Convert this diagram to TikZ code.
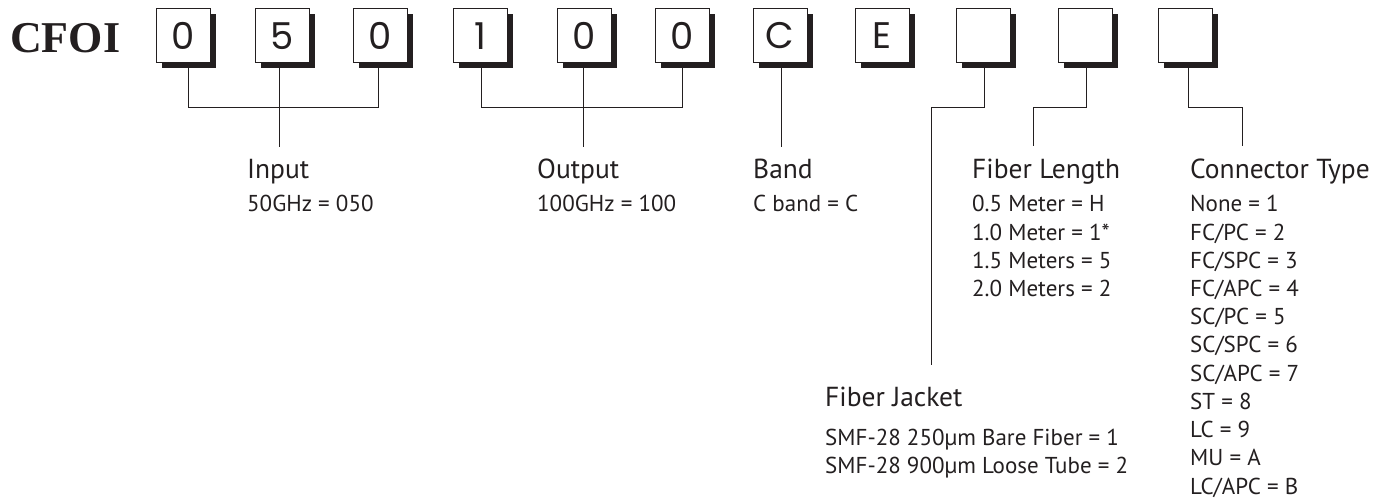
\documentclass[tikz,border=0pt]{standalone}
\usepackage{fontspec}
\setmainfont{PT Sans}
\newfontfamily\cfoifont{Liberation Serif}
\newfontfamily\boxfont{Poppins}
\usetikzlibrary{shadows}
\definecolor{ink}{HTML}{231F20}
\begin{document}
\begin{tikzpicture}[x=1pt,y=-1pt,
  digitbox/.style={draw=ink, line width=1pt, fill=white, minimum width=54pt, minimum height=54pt, inner sep=0pt,
    font=\boxfont\fontsize{37}{37}\selectfont, text=ink,
    drop shadow={shadow xshift=5.5pt, shadow yshift=-5.5pt, fill=ink, opacity=1}},
  conn/.style={draw=ink, line width=1pt},
  head/.style={anchor=base west, inner sep=0pt, font=\fontsize{27.5}{27.5}\selectfont, text=ink},
  item/.style={anchor=base west, inner sep=0pt, font=\fontsize{23}{23}\selectfont, text=ink},
]
\useasboundingbox (0,0) rectangle (1390,502);

% title
\node[anchor=base west, inner sep=0pt, text=ink, font=\cfoifont\bfseries\fontsize{44}{44}\selectfont] (title) at (10,53) {CFOI};

% boxes
\node[digitbox] (b1) at (183,36) {0};
\node[digitbox] (b2) at (282,36) {5};
\node[digitbox] (b3) at (380,36) {0};
\node[digitbox] (b4) at (480,36) {1};
\node[digitbox] (b5) at (584,36) {0};
\node[digitbox] (b6) at (682,36) {0};
\node[digitbox] (b7) at (780,36) {C};
\node[digitbox] (b8) at (882,36) {E};
\node[digitbox] (b9) at (983,36) {};
\node[digitbox] (b10) at (1085,36) {};
\node[digitbox] (b11) at (1185,36) {};

% junction coordinates
\coordinate (t1) at (188,108); \coordinate (t2) at (279,108); \coordinate (t3) at (378,108); \coordinate (s1) at (279,147);
\coordinate (t4) at (481,108); \coordinate (t5) at (583,108); \coordinate (t6) at (682,108); \coordinate (s2) at (583,147);
\coordinate (s3) at (781,147);
\coordinate (k1) at (984,108); \coordinate (k2) at (931,108); \coordinate (s4) at (931,365);
\coordinate (l1) at (1086,108); \coordinate (l2) at (1033,108); \coordinate (s5) at (1033,146);
\coordinate (c1) at (1188,108); \coordinate (c2) at (1242,108); \coordinate (s6) at (1242,146);

% connectors
\draw[conn] (b1.south -| t1) -- (t1) -- (t3) -- (b3.south -| t3);
\draw[conn] (b2.south -| t2) -- (s1);
\draw[conn] (b4.south -| t4) -- (t4) -- (t6) -- (b6.south -| t6);
\draw[conn] (b5.south -| t5) -- (s2);
\draw[conn] (b7.south -| s3) -- (s3);
\draw[conn] (b9.south -| k1) -- (k1) -- (k2) -- (s4);
\draw[conn] (b10.south -| l1) -- (l1) -- (l2) -- (s5);
\draw[conn] (b11.south -| c1) -- (c1) -- (c2) -- (s6);

% headings
\node[head] (hin) at (247,179) {Input};
\node[head] (hout) at (537,179) {Output};
\node[head] (hband) at (753,179) {Band};
\node[head] (hlen) at (972,179) {Fiber Length};
\node[head] (hcon) at (1190,179) {Connector Type};
\node[head] (hjack) at (825,407) {Fiber Jacket};

% items
\node[item] (iin) at (247,212) {50GHz = 050};
\node[item] (iout) at (537,212) {100GHz = 100};
\node[item] (iband) at (753,212) {C band = C};
\foreach \t [count=\i from 0] in {0.5 Meter = H, 1.0 Meter = 1*, 1.5 Meters = 5, 2.0 Meters = 2}
  \node[item] (ilen\i) at (972,212+28.2*\i) {\t};
\foreach \t [count=\i from 0] in {None = 1, FC/PC = 2, FC/SPC = 3, FC/APC = 4, SC/PC = 5, SC/SPC = 6, SC/APC = 7, ST = 8, LC = 9, MU = A, LC/APC = B}
  \node[item] (icon\i) at (1190,212+28.2*\i) {\t};
\node[item] (ijack0) at (825,446) {SMF-28 250µm Bare Fiber = 1};
\node[item] (ijack1) at (825,474) {SMF-28 900µm Loose Tube = 2};
\end{tikzpicture}
\end{document}
